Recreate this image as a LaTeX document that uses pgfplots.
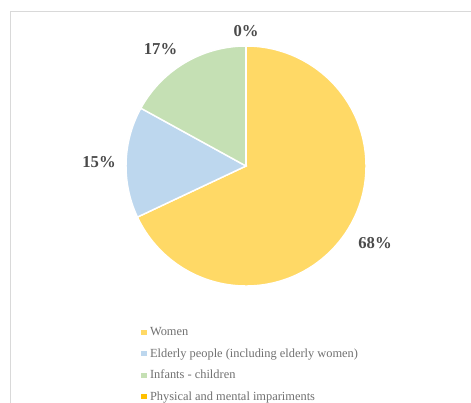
\documentclass[border=0pt]{standalone}
\usepackage{fontspec}
\setmainfont{Liberation Serif}
\usepackage{pgfplots}
\usepackage{pgfplotstable}
\pgfplotsset{compat=1.18}
\definecolor{cW}{HTML}{FFD966}
\definecolor{cE}{HTML}{BDD7EE}
\definecolor{cI}{HTML}{C5E0B4}
\definecolor{cP}{HTML}{FFC000}
\definecolor{lbl}{HTML}{4A4A4A}
\definecolor{leg}{HTML}{707070}
\definecolor{frm}{HTML}{D9D9D9}
\pgfplotstableread{
value
68
15
17
0
}\piedata
\begin{document}
\begin{tikzpicture}
\useasboundingbox (0,0) rectangle (353.25pt,-302.25pt);
\clip (0,0) rectangle (353.25pt,-302.25pt);
\draw[frm, line width=0.8pt] (7.9pt,-320pt) -- (7.9pt,-8.6pt) -- (370pt,-8.6pt);
\pgfplotstablegetelem{0}{value}\of\piedata \let\vW\pgfplotsretval
\pgfplotstablegetelem{1}{value}\of\piedata \let\vE\pgfplotsretval
\pgfplotstablegetelem{2}{value}\of\piedata \let\vI\pgfplotsretval
\pgfplotstablegetelem{3}{value}\of\piedata \let\vP\pgfplotsretval
\pgfmathsetmacro\aW{90}
\pgfmathsetmacro\bW{\aW-3.6*\vW}
\pgfmathsetmacro\bE{\bW-3.6*\vE}
\pgfmathsetmacro\bI{\bE-3.6*\vI}
\pgfmathsetmacro\bP{\bI-3.6*\vP}
\begin{axis}[
  at={(184.5pt,-124.5pt)}, anchor=origin,
  x=90pt, y=90pt, xmin=-1, xmax=1, ymin=-1, ymax=1,
  hide axis, clip=false,
  legend cell align=left,
  legend style={at={(0.0625,-0.1667)}, anchor=north west, draw=none, fill=none,
    font=\fontsize{9.3}{11}\selectfont, text=leg, inner sep=0pt, row sep=7.1pt,
    nodes={inner sep=0pt, text height=7pt, text depth=2pt, anchor=base west},
    /tikz/every odd column/.append style={column sep=3pt}},
]
\fill[cW, draw=white, line width=1.1pt] (axis cs:0,0) -- (axis cs:{cos(\aW)},{sin(\aW)}) arc[start angle=\aW, end angle=\bW, radius=90pt] -- cycle;
\fill[cE, draw=white, line width=1.1pt] (axis cs:0,0) -- (axis cs:{cos(\bW)},{sin(\bW)}) arc[start angle=\bW, end angle=\bE, radius=90pt] -- cycle;
\fill[cI, draw=white, line width=1.1pt] (axis cs:0,0) -- (axis cs:{cos(\bE)},{sin(\bE)}) arc[start angle=\bE, end angle=\bI, radius=90pt] -- cycle;
\draw[white, line width=1.1pt] (axis cs:0,0) -- (axis cs:{cos(\bI)},{sin(\bI)});
\node[lbl, font=\bfseries\fontsize{12.5}{14}\selectfont] at (axis cs:0,1.125) {\vP\%};
\node[lbl, font=\bfseries\fontsize{12.5}{14}\selectfont] at (axis cs:-0.7125,0.975) {\vI\%};
\node[lbl, font=\bfseries\fontsize{12.5}{14}\selectfont] at (axis cs:-1.225,0.033) {\vE\%};
\node[lbl, font=\bfseries\fontsize{12.5}{14}\selectfont] at (axis cs:1.075,-0.642) {\vW\%};
\addlegendimage{legend image code/.code={\fill[cW] (0pt,1.3pt) rectangle (3.2pt,4.3pt);}}
\addlegendentry{Women}
\addlegendimage{legend image code/.code={\fill[cE] (0pt,1.3pt) rectangle (3.2pt,4.3pt);}}
\addlegendentry{Elderly people (including elderly women)}
\addlegendimage{legend image code/.code={\fill[cI] (0pt,1.3pt) rectangle (3.2pt,4.3pt);}}
\addlegendentry{Infants - children}
\addlegendimage{legend image code/.code={\fill[cP] (0pt,1.3pt) rectangle (3.2pt,4.3pt);}}
\addlegendentry{Physical and mental impariments}
\end{axis}
\end{tikzpicture}
\end{document}
